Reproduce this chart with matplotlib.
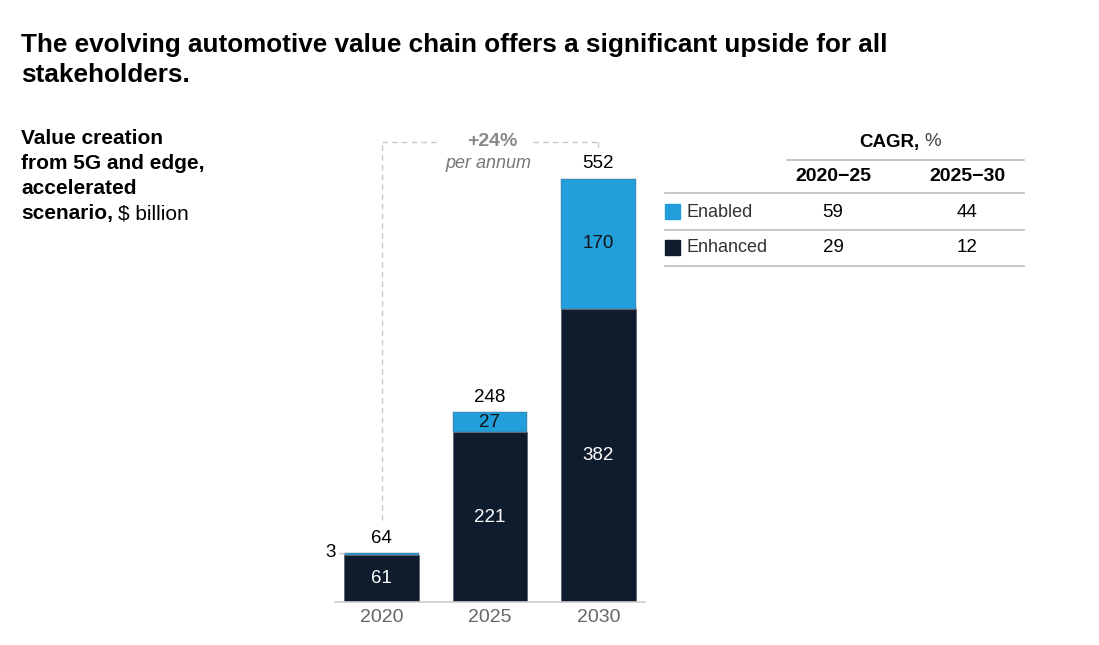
import matplotlib.pyplot as plt

plt.rcParams['font.family'] = ['Liberation Sans', 'DejaVu Sans']

years = ['2020', '2025', '2030']
enhanced = [61, 221, 382]
enabled = [3, 27, 170]
totals = [64, 248, 552]
cagr_periods = ['2020\u221225', '2025\u221230']
cagr_enabled = [59, 44]
cagr_enhanced = [29, 12]

navy = '#0f1c2e'
blue = '#229fda'
grey = '#cccccc'

W, H = 1099, 645
fig = plt.figure(figsize=(W / 100, H / 100), dpi=100)


def fx(x):
    return x / W


def fy(y):
    return 1 - y / H


# title
fig.text(fx(21), fy(45), 'The evolving automotive value chain offers a significant upside for all',
         fontsize=18.8, fontweight='bold', va='center', color='black')
fig.text(fx(21), fy(75), 'stakeholders.', fontsize=18.8, fontweight='bold', va='center', color='black')

# left caption
cap_lines = ['Value creation', 'from 5G and edge,', 'accelerated', 'scenario,']
for i, s in enumerate(cap_lines):
    fig.text(fx(21), fy(138 + 25.3 * i), s, fontsize=15, fontweight='bold', va='center')
renderer = fig.canvas.get_renderer()
t = fig.texts[-1]
bb = t.get_window_extent(renderer)
fig.text(bb.x1 / W + fx(5), fy(138 + 25.3 * 3), '$ billion', fontsize=15, va='center')

# bar axes
ax = fig.add_axes([fx(335), 43 / H, 310 / W, 514 / H])
x = range(len(years))
bw = 0.69
ax.bar(x, enhanced, width=bw, color=navy, edgecolor='#5a6370', linewidth=0.6)
ax.bar(x, enabled, width=bw, bottom=enhanced, color=blue, edgecolor='#5a6370', linewidth=0.3)
ax.set_xlim(-0.43, 2.43)
ax.set_ylim(0, 670)
for s in ['top', 'right', 'left']:
    ax.spines[s].set_visible(False)
ax.spines['bottom'].set_color(grey)
ax.spines['bottom'].set_linewidth(1.2)
ax.set_yticks([])
ax.set_xticks(list(x))
ax.set_xticklabels(years, fontsize=14, color='#666666')
ax.tick_params(axis='x', length=0, pad=5)

for i in x:
    ax.text(i, enhanced[i] / 2, str(enhanced[i]), ha='center', va='center',
            color='white', fontsize=13.5)
    ax.text(i, totals[i] + 8, str(totals[i]), ha='center', va='bottom',
            color='black', fontsize=13.5)
    if enabled[i] > 10:
        ax.text(i, enhanced[i] + enabled[i] / 2, str(enabled[i]), ha='center',
                va='center', color='#111111', fontsize=13.5)

# small label for 2020 enabled
ax.plot([-0.39, -0.345], [totals[0], totals[0]], color=grey, lw=1, clip_on=False)
ax.text(-0.42, totals[0], str(enabled[0]), ha='right', va='center', fontsize=13.5)

# CAGR bracket
dash = dict(color='#c8c8c8', lw=1, ls=(0, (4, 3)), clip_on=False)
ax.plot([0, 0], [107, 600], **dash)
ax.plot([0, 0.5], [600, 600], **dash)
ax.plot([1.4, 2.0], [600, 600], **dash)
ax.plot([2.0, 2.0], [600, 588], **dash)
ax.text(1.02, 600, '+24%', ha='center', va='center', fontsize=14,
        fontweight='bold', color='#888888')
ax.text(0.99, 572, 'per annum', ha='center', va='center', fontsize=13,
        style='italic', color='#777777')

# CAGR table
tc = '#bbbbbb'
fig.text(fx(920), fy(142), 'CAGR,', fontsize=13.5, fontweight='bold', ha='right', va='center')
fig.text(fx(924), fy(142), '%', fontsize=13.5, ha='left', va='center', color='#444444')
fig.add_artist(plt.Line2D([fx(787), fx(1024)], [fy(160), fy(160)], color=tc, lw=1.2))
col_x = [833, 967]
for cx, p in zip(col_x, cagr_periods):
    fig.text(fx(cx), fy(177), p, fontsize=14, fontweight='bold', ha='center', va='center')
for yy in [193, 230, 266]:
    fig.add_artist(plt.Line2D([fx(665), fx(1024)], [fy(yy), fy(yy)], color=tc, lw=1.2))

rows = [('Enabled', blue, cagr_enabled, 212), ('Enhanced', navy, cagr_enhanced, 248)]
for name, col, vals, ry in rows:
    fig.add_artist(plt.Rectangle((fx(665), fy(ry + 7)), 15 / W, 15 / H, color=col))
    fig.text(fx(687), fy(ry), name, fontsize=13, va='center', color='#333333')
    for cx, v in zip(col_x, vals):
        fig.text(fx(cx), fy(ry), str(v), fontsize=13.5, ha='center', va='center')

fig.savefig('out.png', dpi=100)
